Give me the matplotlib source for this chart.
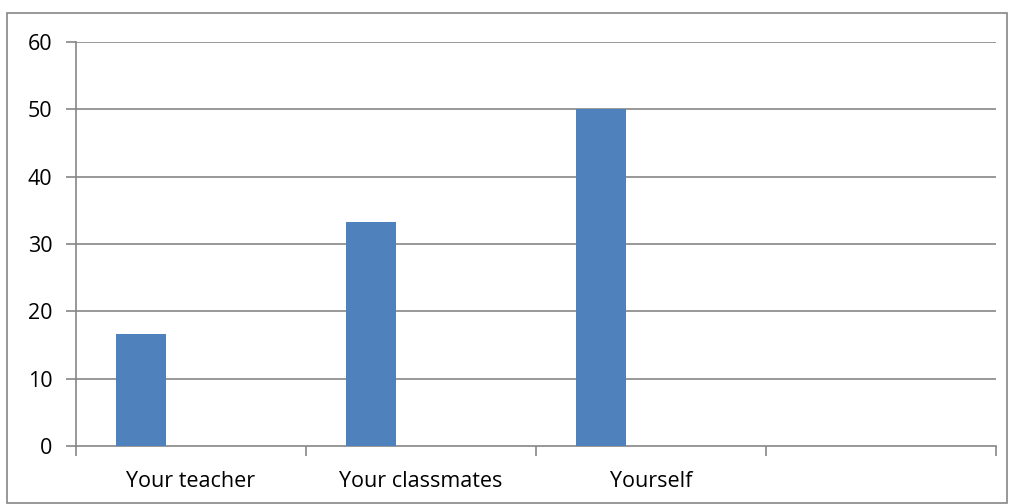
import matplotlib
matplotlib.use("Agg")
import matplotlib.pyplot as plt
from matplotlib.patches import Rectangle

categories = ["Your teacher", "Your classmates", "Yourself", ""]
values = [16.67, 33.33, 50.0, None]
y_ticks = [0, 10, 20, 30, 40, 50, 60]

plt.rcParams['font.family'] = ['Open Sans', 'DejaVu Sans']

fig = plt.figure(figsize=(10.09, 5.04), dpi=100)
ax = fig.add_axes([76/1009, 1-446/504, 920/1009, 404/504])

grid_c = "#868686"
bar_w = 50/230
offset = -50/230
xs = [i + offset for i, v in enumerate(values) if v is not None]
vs = [v for v in values if v is not None]
ax.bar(xs, vs, width=bar_w, color="#4F81BD", zorder=3)

fs = 15.5
ax.set_xlim(-0.5, len(categories) - 0.5)
ax.set_ylim(0, 60)
ax.set_yticks(y_ticks)
ax.set_yticklabels([str(t) for t in y_ticks], fontsize=fs)
for t in y_ticks[1:]:
    ax.axhline(t, color=grid_c, lw=1.2, zorder=1)

ax.set_xticks([i for i in range(len(categories))])
ax.set_xticklabels(categories, fontsize=fs)
ax.tick_params(axis='x', which='major', length=0, pad=18)
ax.set_xticks([i - 0.5 for i in range(len(categories) + 1)], minor=True)
ax.tick_params(axis='x', which='minor', length=7, color=grid_c, width=1.2)
ax.tick_params(axis='y', length=7, color=grid_c, width=1.2, pad=10)

for s in ['top', 'right']:
    ax.spines[s].set_visible(False)
for s in ['left', 'bottom']:
    ax.spines[s].set_color(grid_c)
    ax.spines[s].set_linewidth(1.2)

fig.patches.append(Rectangle((7/1009, 1/504), 1000/1009, 490/504, transform=fig.transFigure,
                             fill=False, edgecolor=grid_c, lw=1.2))

fig.savefig("out.png", dpi=100)
